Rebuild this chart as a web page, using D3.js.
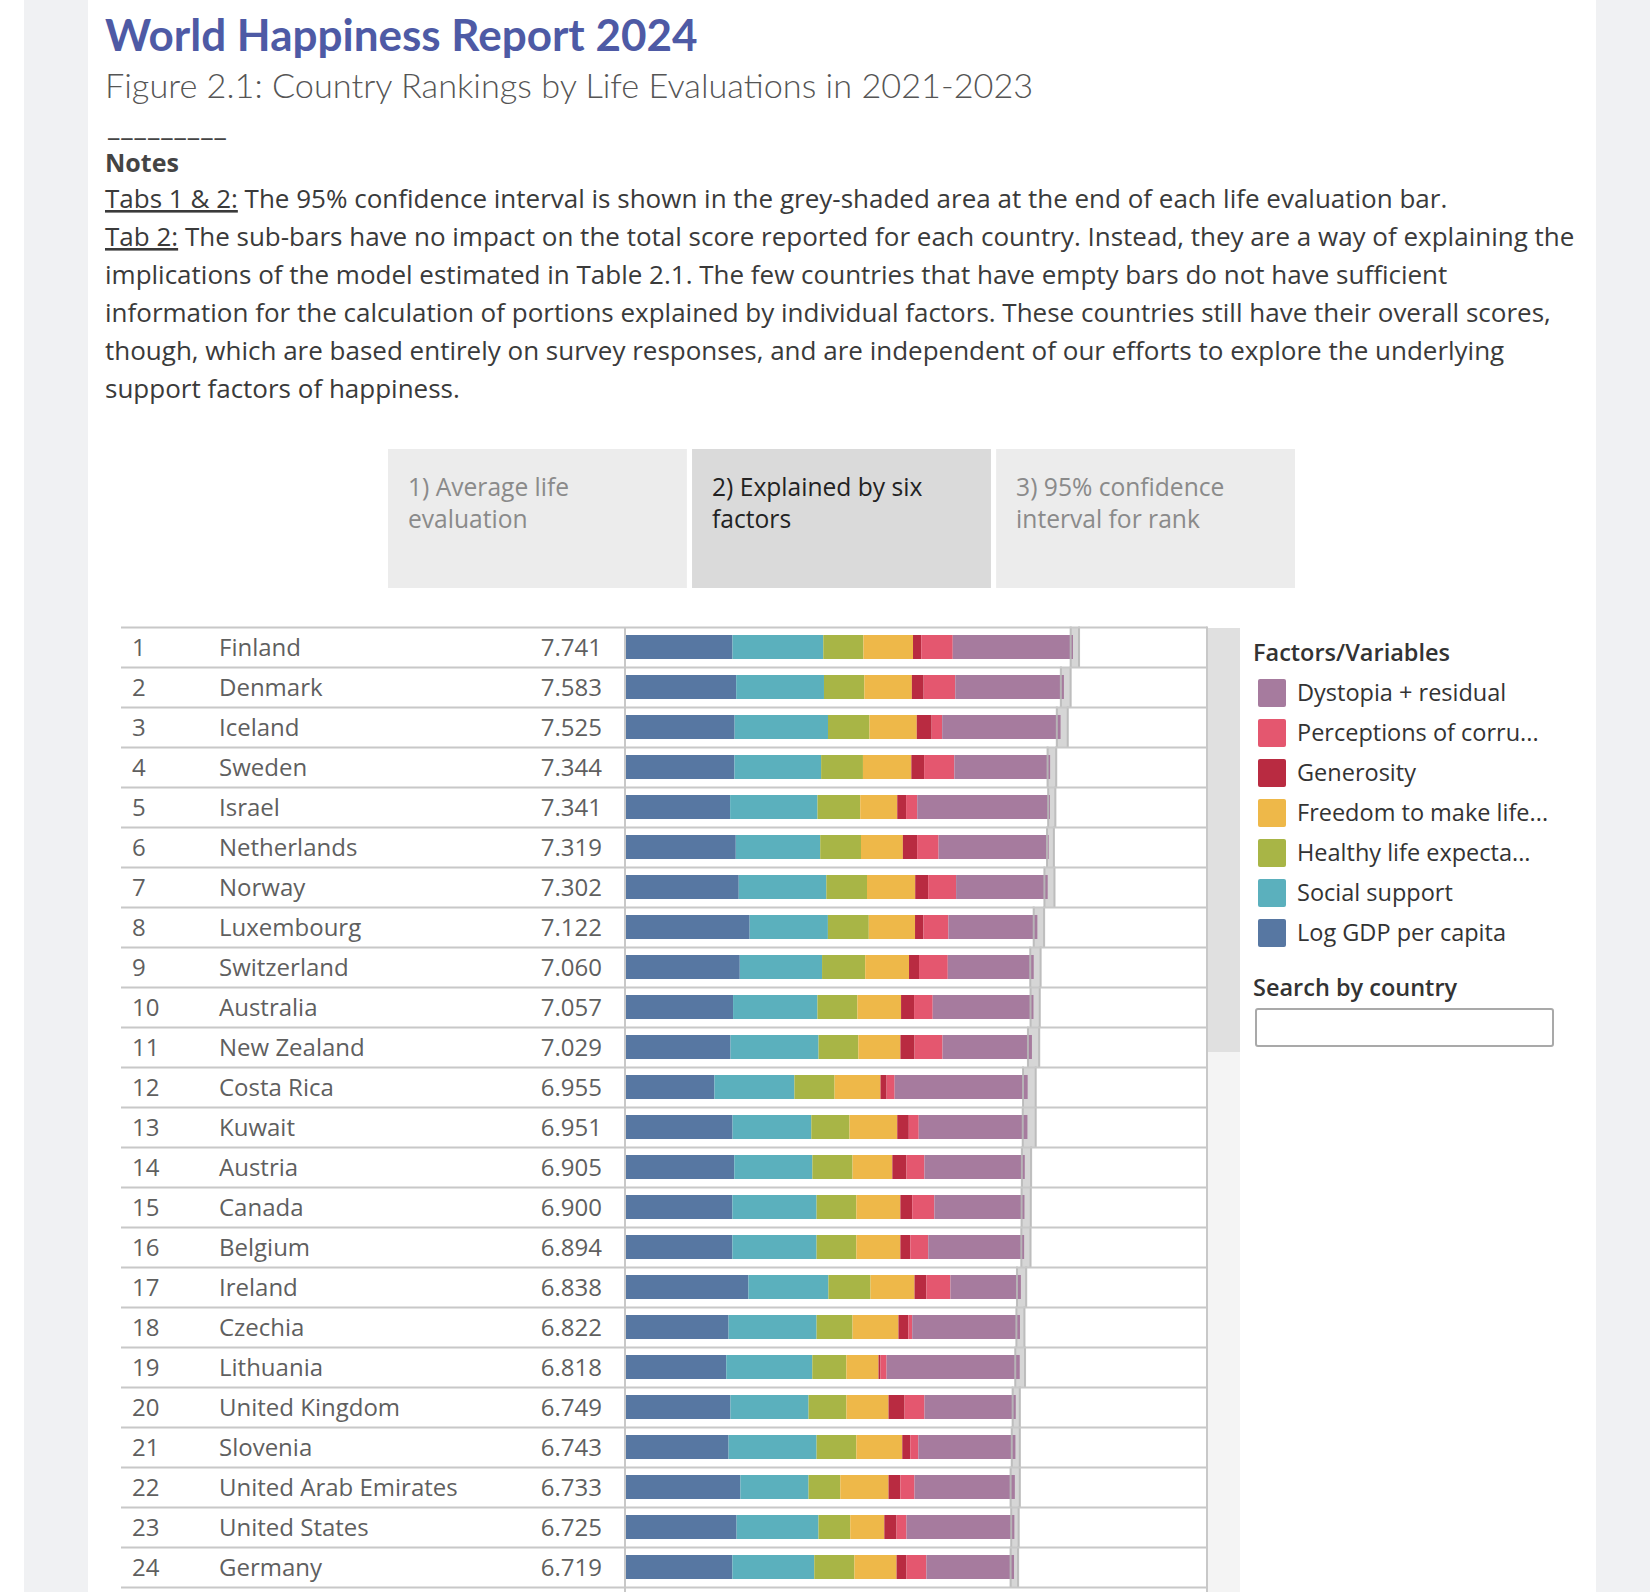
<!DOCTYPE html>
<html>
<head>
<meta charset="utf-8">
<script src="https://cdn.jsdelivr.net/npm/d3@7"></script>
<style>
  html, body { margin: 0; padding: 0; background: #ffffff; overflow: hidden; }
  svg { display: block; }
  text { font-family: "Open Sans", "Noto Sans", sans-serif; }
  .lato { font-family: Lato, "Open Sans", sans-serif; }
</style>
</head>
<body>
<svg id="chart" width="1650" height="1592"></svg>
<script>
// ---------------- DATA ----------------
const ranks = [1,2,3,4,5,6,7,8,9,10,11,12,13,14,15,16,17,18,19,20,21,22,23,24];
const countries = ["Finland","Denmark","Iceland","Sweden","Israel","Netherlands","Norway","Luxembourg",
  "Switzerland","Australia","New Zealand","Costa Rica","Kuwait","Austria","Canada","Belgium","Ireland",
  "Czechia","Lithuania","United Kingdom","Slovenia","United Arab Emirates","United States","Germany"];
const scores = [7.741,7.583,7.525,7.344,7.341,7.319,7.302,7.122,7.060,7.057,7.029,6.955,6.951,6.905,
  6.900,6.894,6.838,6.822,6.818,6.749,6.743,6.733,6.725,6.719];
const gdp        = [1.844,1.908,1.881,1.878,1.803,1.901,1.952,2.141,1.970,1.854,1.810,1.531,1.845,1.875,1.842,1.842,2.120,1.776,1.736,1.809,1.776,1.981,1.915,1.842];
const social     = [1.572,1.520,1.617,1.501,1.513,1.462,1.517,1.355,1.425,1.461,1.524,1.385,1.364,1.352,1.458,1.458,1.385,1.524,1.490,1.352,1.524,1.180,1.418,1.418];
const health     = [0.695,0.699,0.718,0.724,0.740,0.706,0.704,0.708,0.747,0.692,0.689,0.696,0.661,0.696,0.689,0.689,0.729,0.623,0.590,0.656,0.689,0.550,0.550,0.696];
const freedom    = [0.859,0.823,0.819,0.838,0.641,0.725,0.835,0.801,0.759,0.756,0.729,0.795,0.827,0.689,0.762,0.762,0.762,0.795,0.557,0.729,0.795,0.835,0.590,0.729];
const generosity = [0.142,0.204,0.258,0.221,0.153,0.247,0.224,0.146,0.173,0.225,0.245,0.106,0.200,0.245,0.205,0.172,0.205,0.172,0.033,0.278,0.139,0.205,0.212,0.172];
const corruption = [0.546,0.548,0.182,0.524,0.193,0.372,0.484,0.432,0.498,0.323,0.484,0.139,0.172,0.311,0.384,0.311,0.417,0.066,0.106,0.345,0.139,0.245,0.172,0.345];
const dystopia   = [2.082,1.881,2.050,1.658,2.298,1.906,1.586,1.540,1.488,1.745,1.548,2.303,1.882,1.737,1.560,1.660,1.220,1.866,2.306,1.580,1.681,1.737,1.868,1.517];
const ciLow  = [7.700,7.530,7.460,7.300,7.310,7.290,7.245,7.060,7.000,7.005,6.960,6.875,6.870,6.855,6.850,6.845,6.770,6.760,6.740,6.695,6.680,6.660,6.670,6.660];
const ciHigh = [7.845,7.700,7.650,7.450,7.435,7.410,7.420,7.240,7.180,7.165,7.155,7.095,7.095,7.015,7.010,7.005,6.930,6.900,6.910,6.820,6.820,6.820,6.800,6.790];

const factorKeys   = ["gdp","social","health","freedom","generosity","corruption","dystopia"];
const factorLabels = ["Log GDP per capita","Social support","Healthy life expecta...","Freedom to make life...",
  "Generosity","Perceptions of corru...","Dystopia + residual"];
const factorColors = ["#5777a2","#5bb0bd","#a8b546","#eeb849","#b92b41","#e4576f","#a67b9e"];
const tabLabels = [["1) Average life","evaluation"],["2) Explained by six","factors"],["3) 95% confidence","interval for rank"]];
const noteLines = [
  "The sub-bars have no impact on the total score reported for each country. Instead, they are a way of explaining the",
  "implications of the model estimated in Table 2.1. The few countries that have empty bars do not have sufficient",
  "information for the calculation of portions explained by individual factors. These countries still have their overall scores,",
  "though, which are based entirely on survey responses, and are independent of our efforts to explore the underlying",
  "support factors of happiness."
];

// ---------------- LAYOUT ----------------
const svg = d3.select("#chart");
const W = 1650, H = 1592;

svg.append("rect").attr("x",0).attr("y",0).attr("width",W).attr("height",H).attr("fill","#ffffff");
svg.append("rect").attr("x",24).attr("y",0).attr("width",64).attr("height",H).attr("fill","#f0f1f3");
svg.append("rect").attr("x",1596).attr("y",0).attr("width",W-1596).attr("height",H).attr("fill","#f0f1f3");

// Title & subtitle
svg.append("text").attr("class","lato").attr("x",105).attr("y",51)
  .attr("font-size",44).attr("font-weight",700).attr("fill","#4e5aa5")
  .text("World Happiness Report 2024");
svg.append("text").attr("class","lato").attr("x",105).attr("y",98)
  .attr("font-size",34.3).attr("font-weight",300).attr("fill","#555555")
  .text("Figure 2.1: Country Rankings by Life Evaluations in 2021-2023");
svg.append("text").attr("class","lato").attr("x",107).attr("y",136)
  .attr("font-size",29).attr("fill","#444").text("_________");

// Notes
svg.append("text").attr("x",105).attr("y",172)
  .attr("font-size",25).attr("font-weight",700).attr("fill","#444").text("Notes");

const noteSize = 26, noteColor = "#3a3a3a";
const n1 = svg.append("text").attr("x",105).attr("y",208).attr("font-size",noteSize).attr("fill",noteColor);
n1.append("tspan").attr("text-decoration","underline").text("Tabs 1 & 2:");
n1.append("tspan").text(" The 95% confidence interval is shown in the grey-shaded area at the end of each life evaluation bar.");
const n2 = svg.append("text").attr("x",105).attr("y",246).attr("font-size",noteSize).attr("fill",noteColor);
n2.append("tspan").attr("text-decoration","underline").text("Tab 2:");
n2.append("tspan").text(" " + noteLines[0]);
noteLines.slice(1).forEach((t,i) => {
  svg.append("text").attr("x",105).attr("y",284 + i*38).attr("font-size",noteSize).attr("fill",noteColor).text(t);
});

// Tabs
const tabX = d3.scaleBand().domain([0,1,2]).range([388, 1295]).paddingInner(0.017);
tabLabels.forEach((lines,i) => {
  const g = svg.append("g");
  g.append("rect").attr("x",tabX(i)).attr("y",449).attr("width",tabX.bandwidth()).attr("height",139)
    .attr("fill", i===1 ? "#dadada" : "#ececec");
  lines.forEach((l,j) => {
    g.append("text").attr("x",tabX(i)+20).attr("y",496 + j*32).attr("font-size",24.6)
      .attr("fill", i===1 ? "#222" : "#8a8a8a").text(l);
  });
});

// ---------------- TABLE / BARS ----------------
const rowTop = 627.5, rowH = 40;
const y = d3.scaleBand().domain(countries).range([rowTop, rowTop + rowH*countries.length]).padding(0);
const x = d3.scaleLinear().domain([0,10]).range([626, 1203.5]);

const rows = countries.map((c,i) => ({
  country: c, rank: ranks[i], score: scores[i],
  gdp: gdp[i], social: social[i], health: health[i], freedom: freedom[i],
  generosity: generosity[i], corruption: corruption[i], dystopia: dystopia[i],
  lo: ciLow[i], hi: ciHigh[i]
}));

const table = svg.append("g");

// scrollbar
table.append("rect").attr("x",1208).attr("y",628).attr("width",32).attr("height",H-628).attr("fill","#f4f4f4");
table.append("rect").attr("x",1208).attr("y",628).attr("width",32).attr("height",424).attr("fill","#e0e0e0");

// CI bands (behind bars)
table.append("g").selectAll("rect").data(rows).join("rect")
  .attr("x", d => x(d.lo)).attr("width", d => x(d.hi) - x(d.lo))
  .attr("y", d => y(d.country)).attr("height", rowH)
  .attr("fill","#d6d6d6");

// stacked bars
const series = d3.stack().keys(factorKeys)(rows);
const color = d3.scaleOrdinal().domain(factorKeys).range(factorColors);
const barInset = 7.5, barH = 24;
table.append("g").selectAll("g").data(series).join("g")
  .attr("fill", s => color(s.key))
  .selectAll("rect").data(s => s).join("rect")
  .attr("x", d => x(d[0])).attr("width", d => Math.max(0, x(d[1]) - x(d[0])))
  .attr("y", d => y(d.data.country) + barInset).attr("height", barH);

// CI edge lines (on top)
const ciL = table.append("g").attr("stroke","#b9b9b9").attr("stroke-width",2).attr("opacity",0.9);
rows.forEach(d => {
  [d.lo, d.hi].forEach(v => {
    ciL.append("line").attr("x1", x(v)).attr("x2", x(v))
      .attr("y1", y(d.country) - 1).attr("y2", y(d.country) + rowH);
  });
});

// grid lines
const grid = table.append("g").attr("stroke","#c8c8c8").attr("stroke-width",2);
d3.range(countries.length + 1).forEach(i => {
  const yy = rowTop + i*rowH;
  grid.append("line").attr("x1",121).attr("x2",1207).attr("y1",yy).attr("y2",yy);
});
grid.append("line").attr("x1",625).attr("x2",625).attr("y1",rowTop).attr("y2",H);
grid.append("line").attr("x1",1207).attr("x2",1207).attr("y1",rowTop-1).attr("y2",H);

// row labels
const txt = table.append("g").attr("font-size",24).attr("fill","#5f5f5f");
rows.forEach(d => {
  const cy = y(d.country) + rowH/2 + 8.5;
  txt.append("text").attr("x",132).attr("y",cy).text(d.rank);
  txt.append("text").attr("x",219).attr("y",cy).text(d.country);
  txt.append("text").attr("x",602).attr("y",cy).attr("text-anchor","end").text(d3.format(".3f")(d.score));
});

// ---------------- LEGEND ----------------
const leg = svg.append("g");
leg.append("text").attr("x",1253).attr("y",661).attr("font-size",23.5).attr("font-weight",600)
  .attr("fill","#333").text("Factors/Variables");
const legOrder = factorKeys.slice().reverse();
const legY = d3.scaleBand().domain(legOrder).range([673, 673 + 40*legOrder.length]);
legOrder.forEach(k => {
  const i = factorKeys.indexOf(k);
  leg.append("rect").attr("x",1258).attr("y",legY(k)+6).attr("width",28).attr("height",28)
    .attr("rx",2).attr("fill",factorColors[i]);
  leg.append("text").attr("x",1297).attr("y",legY(k)+28).attr("font-size",23.5).attr("fill","#333")
    .text(factorLabels[i]);
});
leg.append("text").attr("x",1253).attr("y",996).attr("font-size",23.5).attr("font-weight",600)
  .attr("fill","#333").text("Search by country");
leg.append("rect").attr("x",1256).attr("y",1009).attr("width",297).attr("height",37).attr("rx",2)
  .attr("fill","#fff").attr("stroke","#a9a9a9").attr("stroke-width",2);
</script>
</body>
</html>
